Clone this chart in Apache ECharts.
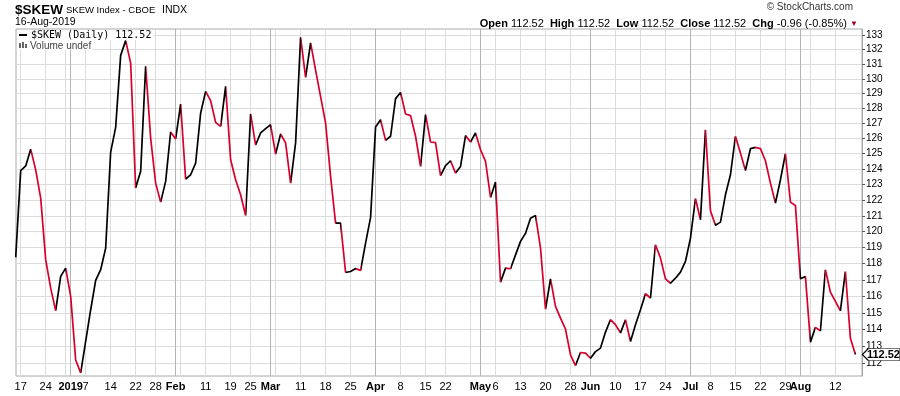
<!DOCTYPE html>
<html><head><meta charset="utf-8">
<script src="https://cdn.jsdelivr.net/npm/echarts@6/dist/echarts.min.js"></script>
<style>html,body{margin:0;padding:0;background:#fff}#c{width:900px;height:396px}</style>
</head><body><div id="c"></div>
<script>
// trading days (day numbers per month)
const dec2018 = [14,17,18,19,20,21,24,26,27,28,31];
const jan2019 = [2,3,4,7,8,9,10,11,14,15,16,17,18,22,23,24,25,28,29,30,31];
const feb2019 = [1,4,5,6,7,8,11,12,13,14,15,19,20,21,22,25,26,27,28];
const mar2019 = [1,4,5,6,7,8,11,12,13,14,15,18,19,20,21,22,25,26,27,28,29];
const apr2019 = [1,2,3,4,5,8,9,10,11,12,15,16,17,18,22,23,24,25,26,29,30];
const may2019 = [1,2,3,6,7,8,9,10,13,14,15,16,17,20,21,22,23,24,28,29,30,31];
const jun2019 = [3,4,5,6,7,10,11,12,13,14,17,18,19,20,21,24,25,26,27,28];
const jul2019 = [1,2,3,5,8,9,10,11,12,15,16,17,18,19,22,23,24,25,26,29,30,31];
const aug2019 = [1,2,5,6,7,8,9,12,13,14,15,16];

// $SKEW daily closes, one per trading day above
const skewDec = [118.4,123.9,124.2,125.3,123.95,122.13,118.25,116.5,115.13,117.22,117.73];
const skewJan = [116.0,112.2,111.44,113.29,115.19,116.97,117.63,118.97,125.11,126.74,131.61,132.63,131.08,122.77,123.85,130.85,126.03,123.09,121.87,123.2,126.43];
const skewFeb = [125.97,128.29,123.35,123.63,124.39,127.69,129.15,128.52,127.07,126.8,129.49,124.61,123.31,122.34,121.02,127.63,125.57,126.37,126.65];
const skewMar = [126.91,124.98,126.3,125.71,123.09,125.71,132.86,130.1,132.48,130.6,128.8,127.03,123.53,120.54,120.54,117.46,117.52,117.7,117.59,119.28,120.9];
const skewApr = [126.76,127.24,125.88,126.15,128.66,129.08,127.63,127.52,126.15,124.17,127.59,125.77,125.73,123.57,124.22,124.54,123.74,124.17,126.19,125.77,126.37];
const skewMay = [125.26,124.5,122.17,123.16,116.87,117.73,117.69,118.55,119.39,119.9,120.85,121.02,118.97,115.23,117.07,115.39,114.69,114.03,112.5,111.87,112.64,112.6];
const skewJun = [112.3,112.69,112.9,113.85,114.59,114.29,113.8,114.59,113.29,114.29,115.19,116.16,115.9,119.18,118.35,117.07,116.8,117.11,117.48,118.14];
const skewJul = [119.59,122.1,120.75,126.58,121.32,120.4,120.6,122.34,123.63,126.15,125.04,123.91,125.33,125.42,125.33,124.54,123.09,121.81,123.31,125.0,121.87,121.66];
const skewAug = [117.07,117.22,113.25,114.13,113.93,117.63,116.26,115.7,115.13,117.52,113.48,112.52];

// x-axis tick labels (date -> text)
const xTickLabels = [
  ['2018-12-17','17'],['2018-12-24','24'],['2019-01-02','2019'],['2019-01-07','7'],['2019-01-14','14'],
  ['2019-01-22','22'],['2019-01-28','28'],['2019-02-01','Feb'],['2019-02-11','11'],['2019-02-19','19'],
  ['2019-02-25','25'],['2019-03-01','Mar'],['2019-03-11','11'],['2019-03-18','18'],['2019-03-25','25'],
  ['2019-04-01','Apr'],['2019-04-08','8'],['2019-04-15','15'],['2019-04-22','22'],['2019-05-01','May'],
  ['2019-05-06','6'],['2019-05-13','13'],['2019-05-20','20'],['2019-05-28','28'],['2019-06-03','Jun'],
  ['2019-06-10','10'],['2019-06-17','17'],['2019-06-24','24'],['2019-07-01','Jul'],['2019-07-08','8'],
  ['2019-07-15','15'],['2019-07-22','22'],['2019-07-29','29'],['2019-08-01','Aug'],['2019-08-12','12']
];
const boldTickLabels = ['2019','Feb','Mar','Apr','May','Jun','Jul','Aug'];
const yTickValues = [112,113,114,115,116,117,118,119,120,121,122,123,124,125,126,127,128,129,130,131,132,133];

const titleSymbol = '$SKEW';
const titleName = 'SKEW Index - CBOE';
const titleExch = 'INDX';
const lastDate = '16-Aug-2019';
const quote = {open:'112.52', high:'112.52', low:'112.52', close:'112.52', chg:'-0.96', pct:'-0.85%'};

const UP = '#000000', DOWN = '#d6002b';

// build
const monthList = [[2018,12,dec2018],[2019,1,jan2019],[2019,2,feb2019],[2019,3,mar2019],[2019,4,apr2019],
  [2019,5,may2019],[2019,6,jun2019],[2019,7,jul2019],[2019,8,aug2019]];
const pad = n => (n < 10 ? '0' : '') + n;
const dates = [];
monthList.forEach(([y,m,days]) => days.forEach(d => dates.push({y, m, d, key: y + '-' + pad(m) + '-' + pad(d),
  wd: new Date(Date.UTC(y, m - 1, d)).getUTCDay()})));
const skew = [].concat(skewDec, skewJan, skewFeb, skewMar, skewApr, skewMay, skewJun, skewJul, skewAug);
const idxOf = {};
dates.forEach((o, i) => idxOf[o.key] = i);
const weekStarts = [], monthStarts = [];
for (let i = 1; i < dates.length; i++) {
  if (dates[i].wd <= dates[i-1].wd) weekStarts.push(i);
  if (dates[i].m !== dates[i-1].m) monthStarts.push(i);
}
const labelAt = {};
xTickLabels.forEach(([k, t]) => labelAt[idxOf[k]] = t);
const labelIdx = xTickLabels.map(([k]) => idxOf[k]);

const pieces = [];
for (let k = 0; k < skew.length - 1; k++) {
  pieces.push({gt: k, lte: k + 1, color: skew[k + 1] >= skew[k] ? UP : DOWN});
}
const last = skew.length - 1;

const FONT = 'Liberation Sans, Arial, sans-serif';
const chart = echarts.init(document.getElementById('c'), null, {renderer: 'canvas'});
chart.setOption({
  animation: false,
  backgroundColor: '#fff',
  grid: {left: 16, right: 38, top: 29, bottom: 20, show: true, borderColor: '#a8a8a8', borderWidth: 1, containLabel: false},
  xAxis: [{
    type: 'value', min: 0.06, max: 169.32,
    axisLine: {show: false},
    axisTick: {show: false, customValues: weekStarts},
    splitLine: {show: true, lineStyle: {color: '#dcdcdc', width: 1}},
    axisLabel: {
      show: true, customValues: labelIdx, margin: 5, color: '#000', fontFamily: FONT, fontSize: 11,
      formatter: v => { const t = labelAt[Math.round(v)] || ''; return boldTickLabels.includes(t) ? '{b|' + t + '}' : t; },
      rich: {b: {fontWeight: 'bold', fontFamily: FONT, fontSize: 11, color: '#000'}}
    }
  }, {
    type: 'value', min: 0.06, max: 169.32, position: 'bottom',
    axisLine: {show: false}, axisLabel: {show: false},
    axisTick: {show: false, customValues: monthStarts},
    splitLine: {show: true, lineStyle: {color: '#b4b4b4', width: 1}}
  }],
  yAxis: {
    type: 'log', logBase: 10, min: 111.26, max: 133.44, position: 'right',
    axisLine: {show: true, lineStyle: {color: '#a8a8a8'}},
    axisTick: {show: true, inside: false, length: 3, customValues: yTickValues, lineStyle: {color: '#555'}},
    splitLine: {show: true, lineStyle: {color: '#dcdcdc', width: 1}},
    axisLabel: {show: true, customValues: yTickValues, margin: 4, color: '#000', fontFamily: FONT, fontSize: 10}
  },
  visualMap: {type: 'piecewise', show: false, dimension: 0, seriesIndex: 0, pieces: pieces, outOfRange: {color: UP}},
  series: [{
    type: 'line', name: '$SKEW',
    data: skew.map((v, i) => [i, v]),
    showSymbol: false, symbol: 'none', clip: true,
    lineStyle: {width: 1.7},
    markPoint: {
      symbol: 'path://M0,6 L6,0 L38,0 L38,12 L6,12 Z', symbolSize: [38, 12], symbolOffset: [26, 0],
      itemStyle: {color: '#fff', borderColor: '#000', borderWidth: 1},
      label: {show: true, color: '#000', fontWeight: 'bold', fontFamily: FONT, fontSize: 11, offset: [2, 0],
        formatter: p => p.value.toFixed(2)},
      data: [{coord: [last, skew[last]], value: skew[last]}]
    }
  }],
  graphic: [
    {type: 'text', left: 15, top: 3, style: {text: titleSymbol, fontSize: 13.5, fontWeight: 'bold', fontFamily: FONT, fill: '#000'}},
    {type: 'text', left: 66, top: 5, style: {text: titleName, fontSize: 9.5, fontFamily: FONT, fill: '#000'}},
    {type: 'text', left: 162, top: 5, style: {text: titleExch, fontSize: 10.5, fontFamily: FONT, fill: '#000'}},
    {type: 'text', left: 15, top: 17, style: {text: lastDate, fontSize: 10.5, fontFamily: FONT, fill: '#000'}},
    {type: 'text', right: 47, top: 2, style: {text: '\u00a9 StockCharts.com', fontSize: 10, fontFamily: FONT, fill: '#333'}},
    {type: 'text', right: 42, top: 18, style: {
      text: '{b|Open} ' + quote.open + '  {b|High} ' + quote.high + '  {b|Low} ' + quote.low +
            '  {b|Close} ' + quote.close + '  {b|Chg} ' + quote.chg + ' (' + quote.pct + ') {r|\u25bc}',
      fontSize: 11, fontFamily: FONT, fill: '#000',
      rich: {b: {fontWeight: 'bold', fontSize: 11, fontFamily: FONT, fill: '#000'}, r: {fontSize: 8, fill: '#a00020'}}}},
    {type: 'rect', left: 17, top: 30, shape: {width: 136, height: 10}, style: {fill: '#fff'}, z: 10},
    {type: 'rect', left: 17, top: 40, shape: {width: 76, height: 10}, style: {fill: '#fff'}, z: 10},
    {type: 'rect', left: 19, top: 34, shape: {width: 8, height: 2}, style: {fill: '#000'}, z: 11},
    {type: 'text', left: 31, top: 30, z: 11, style: {text: '$SKEW (Daily) ' + skew[last].toFixed(2), fontSize: 10, fontFamily: 'DejaVu Sans Mono, monospace', fill: '#000'}},
    {type: 'rect', left: 19, top: 43, shape: {width: 2, height: 5}, style: {fill: '#666'}, z: 11},
    {type: 'rect', left: 22, top: 42, shape: {width: 2, height: 6}, style: {fill: '#666'}, z: 11},
    {type: 'rect', left: 25, top: 44, shape: {width: 2, height: 4}, style: {fill: '#666'}, z: 11},
    {type: 'text', left: 30, top: 41, z: 11, style: {text: 'Volume undef', fontSize: 10, fontFamily: FONT, fill: '#444'}}
  ]
});
</script></body></html>
